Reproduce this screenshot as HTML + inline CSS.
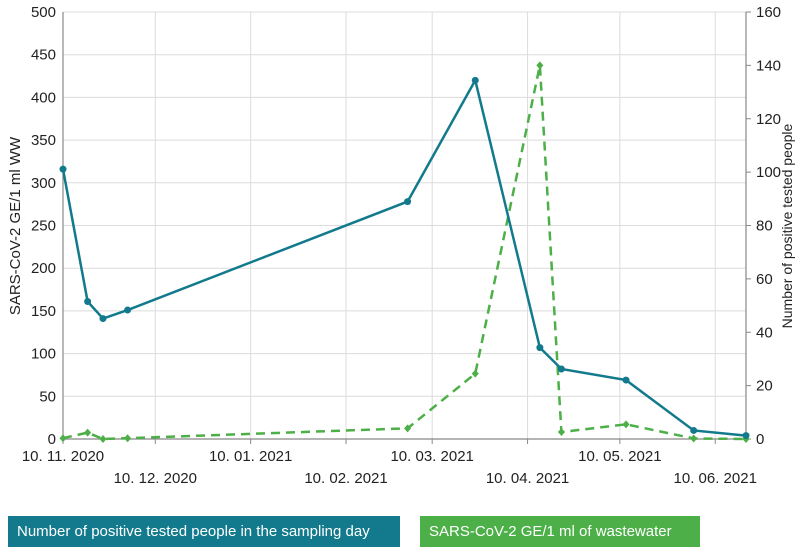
<!DOCTYPE html>
<html><head><meta charset="utf-8"><style>
body{margin:0;background:#fff;width:800px;height:550px;overflow:hidden;font-family:"Liberation Sans",sans-serif}
.leg{position:absolute;top:516px;height:31px;color:#fff;font-size:15px;line-height:31px;padding:0 9px;box-sizing:border-box}
</style></head><body>
<svg id="chart" width="800" height="550" style="position:absolute;left:0;top:0" font-family="Liberation Sans, sans-serif"></svg>
<div class="leg" style="left:8px;width:392px;background:#127a8c">Number of positive tested people in the sampling day</div>
<div class="leg" style="left:420px;width:280px;background:#4caf47">SARS-CoV-2 GE/1 ml of wastewater</div>
<script>
const blueDays=[0,8,13,21,112,134,155,162,183,205,222];
const blueVals=[316,161,141,151,278,420,107,82,69,10,4];
const greenDays=[0,8,13,21,112,134,155,162,183,205,222];
const greenVals=[0.3,2.4,0,0.3,4,24.5,140,2.6,5.5,0.2,0];
const leftTicks=[0,50,100,150,200,250,300,350,400,450,500];
const rightTicks=[0,20,40,60,80,100,120,140,160];
const dateDays=[0,30,61,92,120,151,181,212];
const dateLabels=["10. 11. 2020","10. 12. 2020","10. 01. 2021","10. 02. 2021","10. 03. 2021","10. 04. 2021","10. 05. 2021","10. 06. 2021"];
const X0=63,X1=746,Y0=439,Y1=12,DMAX=222;
const xs=d=>X0+(X1-X0)*d/DMAX;
const yl=v=>Y0-(Y0-Y1)*v/500;
const yr=v=>Y0-(Y0-Y1)*v/160;
const svg=document.getElementById('chart');
const NS='http://www.w3.org/2000/svg';
function mk(t,a){const e=document.createElementNS(NS,t);for(const k in a)e.setAttribute(k,a[k]);svg.appendChild(e);return e;}
leftTicks.forEach(v=>{
  const g=mk('line',{x1:X0,x2:X1,y1:yl(v),y2:yl(v),stroke:'#dcdcdc','stroke-width':1});
  
  
  const t=mk('text',{x:X0-7,y:yl(v)+5,'text-anchor':'end','font-size':15,fill:'#222'});
  t.textContent=v;
  
  
});
rightTicks.forEach(v=>{
  const tk=mk('line',{x1:X1,x2:X1+5,y1:yr(v),y2:yr(v),stroke:'#888'});
  
  
  const t=mk('text',{x:X1+10,y:yr(v)+5,'font-size':15,fill:'#222'});
  t.textContent=v;
  
  
});
dateDays.forEach((d,i)=>{
  const g=mk('line',{x1:xs(d),x2:xs(d),y1:Y1,y2:Y0,stroke:'#dcdcdc'});
  
  
  const tk=mk('line',{x1:xs(d),x2:xs(d),y1:Y0,y2:Y0+5,stroke:'#888'});
  
  
  const t=mk('text',{x:xs(d),y:i%2?483:461,'text-anchor':'middle','font-size':15,fill:'#222'});
  t.textContent=dateLabels[i];
  
  
});
const ax=mk('path',{d:`M${X0} ${Y1}V${Y0}H${X1}V${Y1}`,fill:'none',stroke:'#888','stroke-width':1.2});


const lt=mk('text',{transform:`translate(20,226) rotate(-90)`,'text-anchor':'middle','font-size':15,fill:'#222'});
lt.textContent='SARS-CoV-2 GE/1 ml WW';


const rt=mk('text',{transform:`translate(792,226) rotate(-90)`,'text-anchor':'middle','font-size':14,fill:'#222'});
rt.textContent='Number of positive tested people';


const gl=mk('polyline',{points:greenDays.map((d,i)=>xs(d)+','+yr(greenVals[i])).join(' '),fill:'none',stroke:'#4caf47','stroke-width':2.5,'stroke-dasharray':'9,6'});


greenDays.forEach((d,i)=>{
  const x=xs(d),y=yr(greenVals[i]);
  const p=mk('path',{d:`M${x} ${y-4}L${x+3.5} ${y}L${x} ${y+4}L${x-3.5} ${y}Z`,fill:'#4caf47'});
  
  
});
const bl=mk('polyline',{points:blueDays.map((d,i)=>xs(d)+','+yl(blueVals[i])).join(' '),fill:'none',stroke:'#127a8c','stroke-width':2.5});


blueDays.forEach((d,i)=>{
  const c=mk('circle',{cx:xs(d),cy:yl(blueVals[i]),r:3.5,fill:'#127a8c'});
  
  
});
</script>
</body></html>
